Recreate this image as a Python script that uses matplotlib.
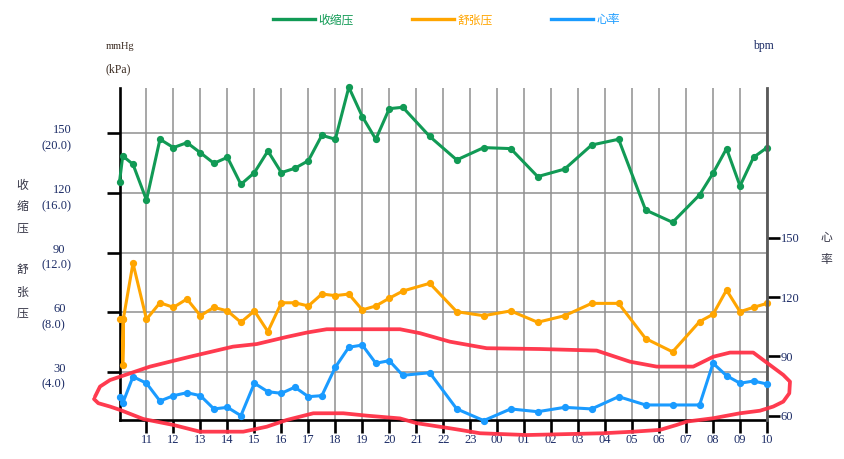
import matplotlib
matplotlib.use("Agg")
import matplotlib.pyplot as plt
from matplotlib import transforms as mtrans
from matplotlib.lines import Line2D

# ---------------- data ----------------
# hours after 10:00 of the first day
times = [0, 0.12, 0.5, 1, 1.5, 2, 2.5, 3, 3.5, 4, 4.5, 5, 5.5, 6, 6.5, 7, 7.5, 8,
         8.5, 9, 9.5, 10, 10.5, 11.5, 12.5, 13.5, 14.5, 15.5, 16.5, 17.5, 18.5,
         19.5, 20.5, 21.5, 22, 22.5, 23, 23.5, 24]
systolic = [125.5, 138.6, 134.4, 116.4, 147, 142.8, 145.3, 140.2, 134.9, 137.9,
            124.3, 130.2, 141.1, 130.2, 132.4, 136.2, 149, 147, 173.2, 158.4,
            147, 162.4, 163.1, 148.4, 136.6, 142.8, 142.3, 128.2, 132.0, 144.1,
            147, 111.4, 105.2, 119, 129.9, 142.3, 123.5, 137.9, 142.8]
dia_times = [0, 0.14, 0.12, 0.14, 0.5, 1, 1.5, 2, 2.5, 3, 3.5, 4, 4.5, 5, 5.5, 6,
             6.5, 7, 7.5, 8, 8.5, 9, 9.5, 10, 10.5, 11.5, 12.5, 13.5, 14.5, 15.5,
             16.5, 17.5, 18.5, 19.5, 20.5, 21.5, 22, 22.5, 23, 23.5, 24]
diastolic = [56.4, 56.4, 33.4, 56.4, 84.6, 56.4, 64.7, 62.4, 66.6, 58.2, 62.4,
             60.6, 54.9, 60.6, 50.2, 64.7, 64.7, 63.1, 69.1, 68.3, 69.1, 61.1,
             63.1, 67, 70.6, 74.5, 60.2, 58.2, 60.6, 54.9, 58.2, 64.4, 64.4,
             46.7, 40, 55.2, 58.9, 71.1, 60.2, 62.4, 64.4]
heart_rate = [69.6, 66.3, 79.7, 76.4, 67.4, 70.1, 71.6, 70.1, 63.4, 64.2,
              60, 76.4, 72.1, 71.3, 74.4, 69.6, 70.1, 84.5, 94.6, 95.7,
              86.5, 87.8, 80.4, 81.7, 63.4, 57.5, 63.4, 62, 64.2, 63.4,
              69.6, 65.4, 65.4, 65.4, 86.5, 80.2, 76.4, 77.5, 76]

hour_ticks = list(range(1, 25))
hour_labels = ["11", "12", "13", "14", "15", "16", "17", "18", "19", "20", "21",
               "22", "23", "00", "01", "02", "03", "04", "05", "06", "07", "08",
               "09", "10"]
mmhg_ticks = [30, 60, 90, 120, 150]
kpa_labels = ["(4.0)", "(8.0)", "(12.0)", "(16.0)", "(20.0)"]
bpm_ticks = [60, 90, 120, 150]

series_names = ["收缩压", "舒张压", "心率"]

# hand-drawn red annotation loop (hours, bpm)
mark_h = [-0.908, -0.723, -0.352, 0.019, 1.130, 2.613, 4.207, 5.085, 6.197, 6.938,
          7.680, 10.397, 11.138, 12.250, 13.610, 15.586, 17.687, 18.921, 19.911,
          21.268, 22.009, 22.628, 23.491, 24.110, 24.603, 24.852, 24.826, 24.603,
          24.232, 23.740, 22.998, 22.009, 21.023, 20.652, 20.033, 19.044, 17.932,
          15.093, 13.362, 12.621, 12.250, 11.015, 10.397, 9.162, 8.295, 7.183,
          6.197, 5.456, 4.589, 2.984, 1.994, 0.882, 0.019, -0.352, -0.786, -0.945]
mark_bpm = [69.6, 74.7, 78.0, 79.7, 84.8, 89.8, 94.9, 96.2, 99.8, 102.0,
            103.7, 103.7, 101.7, 97.4, 94.1, 93.7, 92.9, 87.3, 84.8,
            84.8, 89.8, 91.9, 91.9, 85.6, 80.6, 77.2, 71.3, 67.1,
            64.6, 62.5, 61.2, 58.7, 57.0, 55.3, 52.8, 51.9, 51.1,
            50.2, 51.1, 52.8, 53.6, 56.2, 58.6, 60.0, 61.2, 61.2,
            57.8, 54.4, 51.9, 51.9, 55.3, 58.3, 62.9, 64.6, 66.3, 68.4]

# ---------------- style ----------------
GREEN = "#119a55"
ORANGE = "#ffa500"
BLUE = "#1a9bff"
RED = "#ff3045"
NAVY = "#1c2c66"
GRID = "#8f8f8f"
SERIF = "Liberation Serif"
CJK = ["Noto Sans CJK SC", "DejaVu Sans"]

W, H = 844, 459
fig = plt.figure(figsize=(W / 100, H / 100), dpi=100)
L, R, B, T = 119.5, 767.0, 420.0, 88.0
ax = fig.add_axes([L / W, 1 - B / H, (R - L) / W, (B - T) / H])
ax.set_xlim(0, 24)
ax.set_ylim(5.7, 172.8)
ax2 = ax.twinx()
ax2.set_ylim(57.8, 225.7)

# grid
ax.set_xticks(hour_ticks)
ax.set_xticklabels(hour_labels, fontfamily=SERIF, fontsize=9, color=NAVY)
ax.set_yticks(mmhg_ticks)
ax.set_yticklabels([])
ax.grid(True, color=GRID, lw=1.1, zorder=0)
ax.set_axisbelow(True)

for s in ["top", "right"]:
    ax.spines[s].set_visible(False)
for s in ["left", "bottom"]:
    ax.spines[s].set_color("black")
    ax.spines[s].set_linewidth(1.9)
for s in ["top", "left", "bottom"]:
    ax2.spines[s].set_visible(False)
ax2.spines["right"].set_color("#5a5a5a")
ax2.spines["right"].set_linewidth(2.0)

ax.tick_params(axis="x", direction="out", length=9.4, width=1.9, color="black", pad=1)
ax.tick_params(axis="y", direction="out", length=9.4, width=1.9, color="black")
ax2.set_yticks(bpm_ticks)
ax2.set_yticklabels([str(v) for v in bpm_ticks], fontfamily=SERIF, fontsize=9, color=NAVY)
ax2.tick_params(axis="y", direction="out", length=9.4, width=1.9, color="black", pad=0.5)

# left two-line labels
blend = mtrans.blended_transform_factory(fig.transFigure, ax.transData)
t_top = mtrans.offset_copy(blend, fig=fig, x=0, y=3, units="dots")
t_bot = mtrans.offset_copy(blend, fig=fig, x=0, y=-13, units="dots")
for v, k in zip(mmhg_ticks, kpa_labels):
    ax.text(53 / W, v, str(v), transform=t_top, ha="left", va="center",
            fontfamily=SERIF, fontsize=9, color=NAVY, clip_on=False)
    ax.text(42 / W, v, k, transform=t_bot, ha="left", va="center",
            fontfamily=SERIF, fontsize=9, color=NAVY, clip_on=False)

# series
ax.plot(times, systolic, color=GREEN, lw=2.2, marker="o", ms=4.2, clip_on=False, zorder=3)
ax.plot(dia_times, diastolic, color=ORANGE, lw=2.2, marker="o", ms=4.2, clip_on=False, zorder=3)
ax2.plot(times, heart_rate, color=BLUE, lw=2.2, marker="o", ms=4.2, clip_on=False, zorder=3)

# red annotation
ax2.plot(mark_h, mark_bpm, color=RED, lw=2.7, clip_on=False, zorder=10,
         solid_capstyle="round", solid_joinstyle="round", alpha=0.95)

# axis titles
def ftxt(x, y, s, **kw):
    fig.text(x / W, 1 - y / H, s, **kw)

ftxt(106, 46.5, "mmHg", ha="left", va="center", fontfamily=SERIF, fontsize=7.5, color="#3a2a20")
ftxt(106, 69, "(kPa)", ha="left", va="center", fontfamily=SERIF, fontsize=8.5, color="#3a2a20")
ftxt(753, 46.5, "bpm", ha="left", va="center", fontfamily=SERIF, fontsize=8.5, color=NAVY)
for ch, yy in zip("收缩压", [185, 207, 228]):
    ftxt(22.5, yy, ch, ha="center", va="center", fontfamily=CJK, fontsize=8.5, color="#333344")
for ch, yy in zip("舒张压", [270, 292, 313]):
    ftxt(22.5, yy, ch, ha="center", va="center", fontfamily=CJK, fontsize=8.5, color="#333344")
for ch, yy in zip("心率", [238, 260]):
    ftxt(826, yy, ch, ha="center", va="center", fontfamily=CJK, fontsize=8.5, color="#333344")

# legend
handles = [Line2D([], [], color=c, lw=2.4) for c in (GREEN, ORANGE, BLUE)]
leg = fig.legend(handles, series_names, loc="center", bbox_to_anchor=(0.529, 1 - 20 / H),
                 ncol=3, frameon=False, handlelength=3.6, handletextpad=0.3,
                 columnspacing=4.9, labelcolor="linecolor",
                 prop={"family": CJK, "size": 8.5})

fig.savefig("out.png", dpi=100)
